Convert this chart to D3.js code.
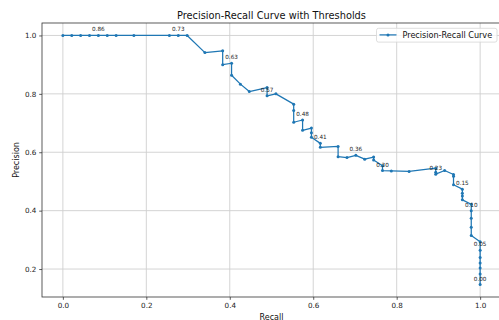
<!DOCTYPE html>
<html>
<head>
<meta charset="utf-8">
<script src="https://cdn.jsdelivr.net/npm/d3@7"></script>
<style>
  body { margin: 0; background: #fff; }
  text { font-family: "DejaVu Sans", sans-serif; }
</style>
</head>
<body>
<div class="chart"></div>
<script>
// recall / precision pairs (recall 0 -> 1)
var recall = [0, 0.0213, 0.0426, 0.0638, 0.0851, 0.1064, 0.1277, 0.1702, 0.2553, 0.2766,
  0.2979, 0.3404, 0.3830, 0.3830, 0.4043, 0.4043, 0.4255, 0.4468, 0.4894, 0.4894,
  0.5106, 0.5532, 0.5532, 0.5532, 0.5745, 0.5745, 0.5957, 0.5957, 0.5957, 0.6170,
  0.6170, 0.6596, 0.6596, 0.6809, 0.7021, 0.7234, 0.7447, 0.7447, 0.7660, 0.7660,
  0.7872, 0.8298, 0.8936, 0.8936, 0.8936, 0.9149, 0.9362, 0.9362, 0.9362, 0.9574,
  0.9574, 0.9574, 0.9574, 0.9787, 0.9787, 0.9787, 0.9787, 0.9787, 1, 1,
  1, 1, 1, 1, 1];
var precision = [1, 1, 1, 1, 1, 1, 1, 1, 1, 1,
  1, 0.9412, 0.9474, 0.9000, 0.9048, 0.8636, 0.8333, 0.8077, 0.8214, 0.7931,
  0.8000, 0.7647, 0.7429, 0.7027, 0.7105, 0.6750, 0.6829, 0.6667, 0.6512, 0.6304,
  0.6170, 0.6200, 0.5849, 0.5818, 0.5893, 0.5763, 0.5833, 0.5738, 0.5538, 0.5373,
  0.5362, 0.5342, 0.5455, 0.5316, 0.5250, 0.5375, 0.5238, 0.5176, 0.4889, 0.4737,
  0.4592, 0.4500, 0.4369, 0.4220, 0.4000, 0.3740, 0.3433, 0.3151, 0.2938, 0.2640,
  0.2398, 0.2207, 0.2035, 0.1829, 0.1469];

// threshold labels and the point each one sits on
var labelIndex = [4, 9, 14, 19, 24, 29, 34, 39, 44, 49, 54, 59, 64];
var labelText = ["0.86", "0.73", "0.63", "0.57", "0.48", "0.41", "0.36", "0.30", "0.23", "0.15", "0.10", "0.05", "0.00"];

var xTicks = [0, 0.2, 0.4, 0.6, 0.8, 1.0];
var yTicks = [0.2, 0.4, 0.6, 0.8, 1.0];

var width = 499, height = 320;
var axLeft = 42, axRight = 501, axTop = 23, axBottom = 297;
var blue = "#1f77b4";

var svg = d3.select(".chart").append("svg")
  .attr("width", width)
  .attr("height", height);

// matplotlib style 5% margins
var xr = d3.extent(recall), yr = d3.extent(precision);
var xPad = (xr[1] - xr[0]) * 0.05, yPad = (yr[1] - yr[0]) * 0.05;

var xScale = d3.scaleLinear()
  .domain([xr[0] - xPad, xr[1] + xPad])
  .range([axLeft, axRight]);
var yScale = d3.scaleLinear()
  .domain([yr[0] - yPad, yr[1] + yPad])
  .range([axBottom, axTop]);

var grid = svg.append("g");
grid.selectAll(".vx").data(xTicks).enter().append("line")
  .attr("x1", function(d) { return xScale(d); })
  .attr("x2", function(d) { return xScale(d); })
  .attr("y1", axTop).attr("y2", axBottom)
  .attr("stroke", "#cfcfcf").attr("stroke-width", 0.9);
grid.selectAll(".hy").data(yTicks).enter().append("line")
  .attr("y1", function(d) { return yScale(d); })
  .attr("y2", function(d) { return yScale(d); })
  .attr("x1", axLeft).attr("x2", axRight)
  .attr("stroke", "#cfcfcf").attr("stroke-width", 0.9);

var pts = recall.map(function(r, i) { return [r, precision[i]]; });

var line = d3.line()
  .x(function(d) { return xScale(d[0]); })
  .y(function(d) { return yScale(d[1]); });

svg.append("path")
  .attr("d", line(pts))
  .attr("fill", "none")
  .attr("stroke", blue)
  .attr("stroke-width", 1.25)
  .attr("stroke-linejoin", "round");

svg.selectAll(".dot").data(pts).enter().append("circle")
  .attr("cx", function(d) { return xScale(d[0]); })
  .attr("cy", function(d) { return yScale(d[1]); })
  .attr("r", 1.5)
  .attr("fill", blue);

svg.selectAll(".thr").data(labelIndex).enter().append("text")
  .attr("x", function(d) { return xScale(recall[d]); })
  .attr("y", function(d) { return yScale(precision[d]) - 4; })
  .attr("text-anchor", "middle")
  .attr("font-size", 5.7)
  .attr("fill", "#222")
  .text(function(d, i) { return labelText[i]; });

// axes
var xAxis = d3.axisBottom(xScale).tickValues(xTicks).tickSize(2.8).tickPadding(2.8)
  .tickFormat(d3.format(".1f"));
var yAxis = d3.axisLeft(yScale).tickValues(yTicks).tickSize(2.8).tickPadding(2.8)
  .tickFormat(d3.format(".1f"));

var gx = svg.append("g").attr("transform", "translate(0," + axBottom + ")").call(xAxis);
var gy = svg.append("g").attr("transform", "translate(" + axLeft + ",0)").call(yAxis);
[gx, gy].forEach(function(g) {
  g.select(".domain").remove();
  g.selectAll("line").attr("stroke", "#333").attr("stroke-width", 0.8);
  g.selectAll("text").attr("font-size", 7.2).attr("fill", "#222")
    .style("font-family", "DejaVu Sans");
});

svg.append("rect")
  .attr("x", axLeft).attr("y", axTop)
  .attr("width", axRight - axLeft).attr("height", axBottom - axTop)
  .attr("fill", "none").attr("stroke", "#333").attr("stroke-width", 0.8);

svg.append("text")
  .attr("x", (axLeft + axRight) / 2).attr("y", 18.5)
  .attr("text-anchor", "middle").attr("font-size", 9.8).attr("fill", "#111")
  .text("Precision-Recall Curve with Thresholds");

svg.append("text")
  .attr("x", (axLeft + axRight) / 2).attr("y", 319.5)
  .attr("text-anchor", "middle").attr("font-size", 8).attr("fill", "#111")
  .text("Recall");

svg.append("text")
  .attr("transform", "translate(19," + (axTop + axBottom) / 2 + ") rotate(-90)")
  .attr("text-anchor", "middle").attr("font-size", 8).attr("fill", "#111")
  .text("Precision");

// legend
var lg = svg.append("g").attr("transform", "translate(376.5,28.3)");
lg.append("rect")
  .attr("width", 120.5).attr("height", 13.8).attr("rx", 2)
  .attr("fill", "#fff").attr("fill-opacity", 0.8)
  .attr("stroke", "#d6d6d6").attr("stroke-width", 0.8);
lg.append("line")
  .attr("x1", 3).attr("x2", 20).attr("y1", 6.6).attr("y2", 6.6)
  .attr("stroke", blue).attr("stroke-width", 1.25);
lg.append("circle").attr("cx", 11.5).attr("cy", 6.6).attr("r", 1.5).attr("fill", blue);
lg.append("text")
  .attr("x", 26).attr("y", 9.5)
  .attr("font-size", 8.1).attr("fill", "#111")
  .text("Precision-Recall Curve");
</script>
</body>
</html>
